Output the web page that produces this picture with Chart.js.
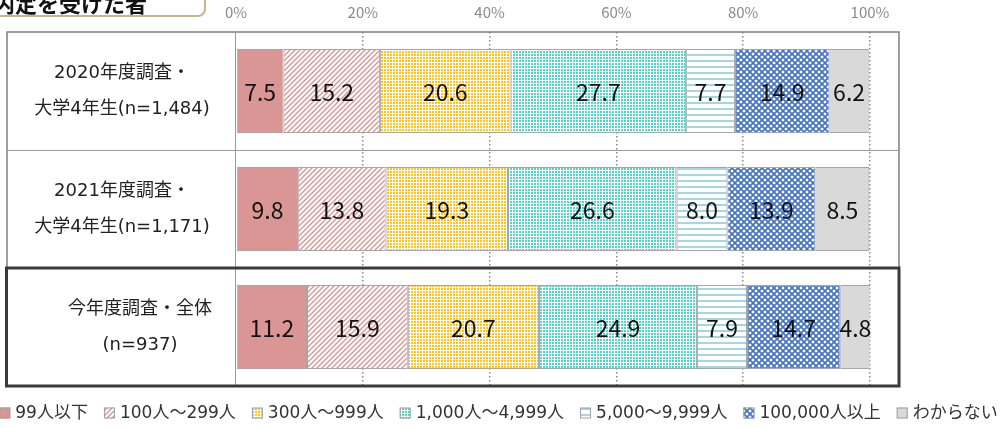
<!DOCTYPE html>
<html lang="ja">
<head>
<meta charset="utf-8">
<title>内定を受けた者</title>
<script src="https://cdn.jsdelivr.net/npm/chart.js@4/dist/chart.umd.min.js"></script>
<style>
  html, body { margin: 0; padding: 0; background: #fff; }
  #wrap { position: relative; width: 1003px; height: 428px; overflow: hidden; }
  #titleBox {
    position: absolute; left: -14px; top: -21px; width: 216px; height: 34px;
    border: 2px solid #c6b789; border-radius: 8px; background: #fff;
  }
  #titleBox span {
    position: absolute; left: 5px; bottom: 2px;
    font: bold 22px "Noto Sans CJK JP", sans-serif; line-height: 22px; color: #111;
    white-space: nowrap;
  }
</style>
</head>
<body>
<div id="wrap">
  <canvas id="chart"></canvas>
  <div id="titleBox"><span>内定を受けた者</span></div>
</div>
<script>
// --- データ ---
const categories = [
  ['2020年度調査・', '大学4年生(n=1,484)'],
  ['2021年度調査・', '大学4年生(n=1,171)'],
  ['\u3000\u3000今年度調査・全体', '\u3000\u3000(n=937)']
];
const seriesNames = ['99人以下', '100人～299人', '300人～999人', '1,000人～4,999人', '5,000～9,999人', '100,000人以上', 'わからない'];
const s99 = [7.5, 9.8, 11.2];
const s100 = [15.2, 13.8, 15.9];
const s300 = [20.6, 19.3, 20.7];
const s1000 = [27.7, 26.6, 24.9];
const s5000 = [7.7, 8.0, 7.9];
const s100000 = [14.9, 13.9, 14.7];
const sUnknown = [6.2, 8.5, 4.8];
const xTicks = [0, 20, 40, 60, 80, 100];
const highlightRow = 2; // 今年度調査 の行を太枠で囲む

const FONT = '"Noto Sans CJK JP", "Noto Sans", sans-serif';
const LABEL_FONT = '"DejaVu Sans", "Noto Sans CJK JP", sans-serif';

// 塗りパターン
function makePattern(kind) {
  const c = document.createElement('canvas');
  const g = c.getContext('2d');
  if (kind === 'diag') {
    c.width = c.height = 5;
    g.fillStyle = '#fff'; g.fillRect(0, 0, 5, 5);
    g.strokeStyle = '#d99694'; g.lineWidth = 1.4;
    g.beginPath();
    g.moveTo(-1, 6); g.lineTo(6, -1);
    g.moveTo(-1, 1); g.lineTo(1, -1);
    g.moveTo(4, 6); g.lineTo(6, 4);
    g.stroke();
  } else if (kind === 'dotY' || kind === 'dotT') {
    c.width = c.height = 3;
    g.fillStyle = '#fff'; g.fillRect(0, 0, 3, 3);
    g.fillStyle = kind === 'dotY' ? '#ffc000' : '#3fcfc6';
    g.globalAlpha = 0.9;
    g.fillRect(0, 0, 2, 2);
  } else if (kind === 'hline') {
    c.width = 6; c.height = 6;
    g.fillStyle = '#fff'; g.fillRect(0, 0, 6, 6);
    g.fillStyle = '#a6d6e1'; g.fillRect(0, 0, 6, 2);
  } else if (kind === 'check') {
    c.width = c.height = 6;
    g.fillStyle = '#fff'; g.fillRect(0, 0, 6, 6);
    g.strokeStyle = '#4472c4'; g.lineWidth = 1.7;
    g.beginPath();
    g.moveTo(-1, -1); g.lineTo(7, 7);
    g.moveTo(-1, 7); g.lineTo(7, -1);
    g.stroke();
  }
  return g.createPattern(c, 'repeat');
}

const fills = [
  '#d99694',
  makePattern('diag'),
  makePattern('dotY'),
  makePattern('dotT'),
  makePattern('hline'),
  makePattern('check'),
  '#d9d9d9'
];
const seriesValues = [s99, s100, s300, s1000, s5000, s100000, sUnknown];

const datasets = seriesValues.map((vals, i) => ({
  label: seriesNames[i],
  data: vals,
  backgroundColor: fills[i],
  borderColor: '#a6a6a6',
  borderWidth: 1,
  borderSkipped: false,
  categoryPercentage: 1,
  barPercentage: 0.71
}));

// 数値ラベル
const valueLabels = {
  id: 'valueLabels',
  afterDatasetsDraw(chart) {
    const ctx = chart.ctx;
    ctx.save();
    ctx.font = '23px ' + FONT;
    ctx.fillStyle = '#111';
    ctx.textAlign = 'center';
    ctx.textBaseline = 'middle';
    chart.data.datasets.forEach((ds, di) => {
      chart.getDatasetMeta(di).data.forEach((el, i) => {
        const x = (el.x + el.base) / 2;
        ctx.fillText(ds.data[i].toFixed(1), x, el.y + 1);
      });
    });
    ctx.restore();
  }
};

// 表の枠線
const tableFrame = {
  id: 'tableFrame',
  afterDraw(chart) {
    const ctx = chart.ctx;
    const area = chart.chartArea;
    const y = chart.scales.y;
    const left = 7, right = area.right + 29;
    const bounds = [area.top];
    for (let i = 0; i < categories.length - 1; i++) {
      bounds.push((y.getPixelForValue(i) + y.getPixelForValue(i + 1)) / 2);
    }
    bounds.push(area.bottom);
    ctx.save();
    ctx.strokeStyle = '#7f7f7f';
    ctx.lineWidth = 1.5;
    ctx.strokeRect(left, area.top, right - left, area.bottom - area.top);
    ctx.lineWidth = 1;
    ctx.beginPath();
    for (let i = 1; i < bounds.length - 1; i++) {
      ctx.moveTo(left, Math.round(bounds[i]) + 0.5);
      ctx.lineTo(right, Math.round(bounds[i]) + 0.5);
    }
    ctx.moveTo(Math.round(area.left) - 0.5, area.top);
    ctx.lineTo(Math.round(area.left) - 0.5, area.bottom);
    ctx.strokeStyle = '#9a9a9a';
    ctx.stroke();
    // 太枠
    ctx.strokeStyle = '#3a3a3a';
    ctx.lineWidth = 3;
    ctx.strokeRect(left - 0.5, bounds[highlightRow], right - left + 0.5, bounds[highlightRow + 1] - bounds[highlightRow]);
    ctx.restore();
  }
};

// 凡例
const bottomLegend = {
  id: 'bottomLegend',
  afterDraw(chart) {
    const ctx = chart.ctx;
    const box = 11, gapText = 5, gapItem = 16;
    ctx.save();
    ctx.font = '17px ' + LABEL_FONT;
    const widths = seriesNames.map(n => box + gapText + ctx.measureText(n).width);
    const total = widths.reduce((a, b) => a + b, 0) + gapItem * (seriesNames.length - 1);
    let x = (chart.width - total) / 2 - 3;
    const yc = 413;
    ctx.textBaseline = 'middle';
    ctx.textAlign = 'left';
    seriesNames.forEach((n, i) => {
      ctx.fillStyle = fills[i];
      ctx.fillRect(x, yc - box / 2, box, box);
      ctx.strokeStyle = '#a0a0a0';
      ctx.lineWidth = 1;
      ctx.strokeRect(x + 0.5, yc - box / 2 + 0.5, box - 1, box - 1);
      ctx.fillStyle = '#333';
      ctx.fillText(n, x + box + gapText, yc + 1);
      x += widths[i] + gapItem;
    });
    ctx.restore();
  }
};

new Chart(document.getElementById('chart'), {
  type: 'bar',
  data: { labels: categories, datasets: datasets },
  options: {
    indexAxis: 'y',
    responsive: true,
    maintainAspectRatio: false,
    animation: false,
    layout: { padding: { left: 7, right: 133, top: 0, bottom: 42 } },
    scales: {
      x: {
        position: 'top',
        stacked: true,
        min: 0,
        max: 100,
        afterBuildTicks(scale) { scale.ticks = xTicks.map(v => ({ value: v })); },
        afterFit(scale) { scale.height = 32; },
        ticks: {
          padding: 11,
          color: '#8c8c8c',
          font: { family: FONT, size: 15 },
          callback: v => v + '%'
        },
        grid: {
          drawTicks: false,
          lineWidth: 1.5,
          color: c => (c.tick && c.tick.value === 0) ? 'rgba(0,0,0,0)' : '#8a8a8a',
          borderDash: [1.5, 2.5]
        },
        border: { display: false, dash: [1.5, 2.5] }
      },
      y: {
        stacked: true,
        offset: true,
        afterFit(scale) {
          scale.width = 229;
          scale.paddingTop = 0;
          scale.paddingBottom = 0;
        },
        ticks: {
          crossAlign: 'center',
          padding: 16,
          color: '#222',
          font: { family: LABEL_FONT, size: 18, lineHeight: 2.0 }
        },
        grid: { display: false },
        border: { display: false }
      }
    },
    plugins: {
      legend: { display: false },
      tooltip: { enabled: false }
    }
  },
  plugins: [valueLabels, tableFrame, bottomLegend]
});
</script>
</body>
</html>
